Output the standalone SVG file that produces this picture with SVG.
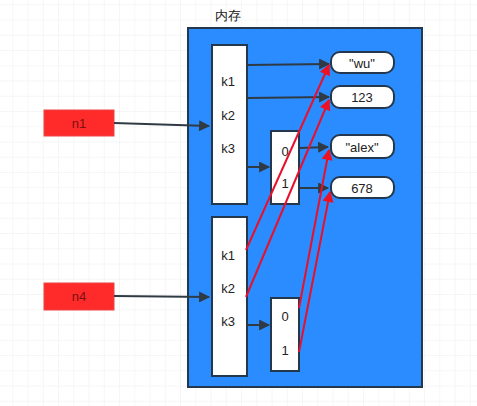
<svg xmlns="http://www.w3.org/2000/svg" width="477" height="406" viewBox="0 0 477 406">
<defs>
<pattern id="grid" width="15.25" height="15.25" patternUnits="userSpaceOnUse" x="-2" y="-10">
<path d="M15.25 0V15.25M0 15.25H15.25" fill="none" stroke="#eeeeee" stroke-width="1"/>
</pattern>
<marker id="ah" viewBox="0 0 10 10" refX="9" refY="5" markerWidth="6" markerHeight="5.5" orient="auto" markerUnits="strokeWidth">
<path d="M0 0L10 5L0 10z" fill="#2f3a44"/>
</marker>
<marker id="rh" viewBox="0 0 10 10" refX="9" refY="5" markerWidth="6" markerHeight="5.5" orient="auto" markerUnits="strokeWidth">
<path d="M0 0L10 5L0 10z" fill="#ee1122"/>
</marker>
<style>
text{font-family:"Liberation Sans",Arial,sans-serif;font-size:13px;fill:#222;text-anchor:middle;dominant-baseline:central}
.box{fill:#fff;stroke:#23384d;stroke-width:2}
.pill{fill:#fff;stroke:#23384d;stroke-width:2}
.dk{stroke:#2f3a44;stroke-width:2;fill:none;marker-end:url(#ah)}
.rd{stroke:#e8102a;stroke-width:2;fill:none;marker-end:url(#rh)}
.red{fill:#ff2b2b;stroke:#ee4444;stroke-width:1}
.red+text{fill:#7a1010}
</style>
</defs>
<rect width="477" height="406" fill="#fff"/>
<rect width="477" height="406" fill="url(#grid)"/>
<g id="memory">
<rect x="188" y="28" width="234" height="359" fill="#2b8cff" stroke="#23384d" stroke-width="2"/>
<text x="228" y="15">内存</text>
</g>
<g id="n1"><rect class="red" x="44" y="110" width="70" height="26"/><text x="79" y="123">n1</text></g>
<g id="n4"><rect class="red" x="44" y="283" width="70" height="27"/><text x="79" y="296">n4</text></g>
<g id="dict1"><rect class="box" x="212" y="45" width="35" height="159"/><text x="228" y="81">k1</text><text x="228" y="115">k2</text><text x="228" y="148">k3</text></g>
<g id="dict2"><rect class="box" x="212" y="217" width="35" height="159"/><text x="228" y="255">k1</text><text x="228" y="288">k2</text><text x="228" y="321">k3</text></g>
<g id="list1"><rect class="box" x="271" y="131" width="28" height="73"/><text x="285" y="151">0</text><text x="285" y="183">1</text></g>
<g id="list2"><rect class="box" x="271" y="298" width="28" height="73"/><text x="285" y="316">0</text><text x="285" y="350">1</text></g>
<g id="wu"><rect class="pill" x="331" y="52" width="63" height="21" rx="9"/><text x="362" y="63">"wu"</text></g>
<g id="v123"><rect class="pill" x="331" y="86" width="63" height="22" rx="9"/><text x="362" y="97">123</text></g>
<g id="alex"><rect class="pill" x="331" y="135" width="63" height="23" rx="9"/><text x="362" y="147">"alex"</text></g>
<g id="v678"><rect class="pill" x="331" y="177" width="63" height="21" rx="9"/><text x="362" y="188">678</text></g>
<g id="connectors">
<path class="dk" d="M114 123L209 126"/>
<path class="dk" d="M114 296L209 297"/>
<path class="dk" d="M247 65L329 64"/>
<path class="dk" d="M247 98L329 97"/>
<path class="dk" d="M247 167L269 167"/>
<path class="dk" d="M299 148L328 147"/>
<path class="dk" d="M299 188L328 188"/>
<path class="dk" d="M247 325L269 325"/>
<path class="rd" d="M246 250L329 65"/>
<path class="rd" d="M246 297L329 100"/>
<path class="rd" d="M299 308L329 150"/>
<path class="rd" d="M299 352L330 192"/>
</g>
</svg>
